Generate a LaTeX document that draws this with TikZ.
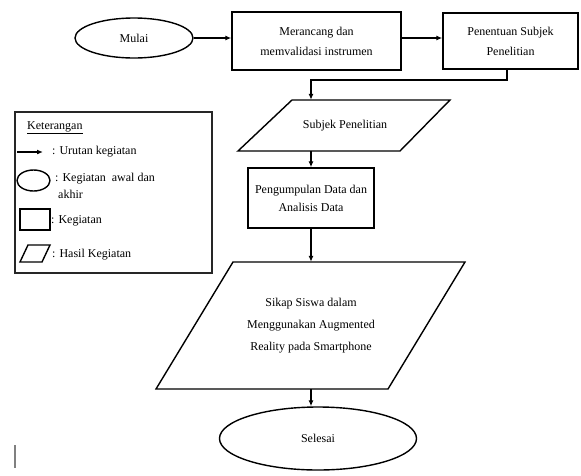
\documentclass[tikz,border=0pt]{standalone}
\usepackage{fontspec}
\setmainfont{Liberation Serif}
\usetikzlibrary{shapes.geometric,arrows.meta}
\begin{document}
\begin{tikzpicture}[x=1pt,y=-1pt,
  font=\fontsize{12}{20}\selectfont,
  outl/.style={draw=black, line width=1.4pt},
  boxnode/.style={outl, rectangle, align=center, inner sep=0pt},
  oval/.style={outl, ellipse, inner sep=0pt},
  txt/.style={align=center, inner sep=0pt},
  conn/.style={line width=1.4pt, -{Latex[length=6pt,width=5pt]}},
  legtxt/.style={anchor=west, inner sep=0pt, align=left, font=\fontsize{12}{17}\selectfont},
  legline/.style={draw=black!85, line width=1.2pt}]
\useasboundingbox (0,0) rectangle (581,475);

% main flow
\node[oval, minimum width=118pt, minimum height=40pt] (mulai) at (134,38) {Mulai};
\node[boxnode, minimum width=169pt, minimum height=58pt] (b1) at (316.5,41) {Merancang dan\\memvalidasi instrumen};
\node[boxnode, minimum width=135pt, minimum height=56pt] (b2) at (510.5,41) {Penentuan Subjek\\Penelitian};

\draw[outl] (292,100) -- (450,100) -- (400,151) -- (238,151) -- cycle;
\node[txt, minimum width=160pt, minimum height=51pt] (p1) at (345,125.5) {Subjek Penelitian};

\node[boxnode, minimum width=126pt, minimum height=60pt, font=\fontsize{12}{18}\selectfont] (b3) at (311,198) {Pengumpulan Data dan\\Analisis Data};

\draw[outl] (233,262) -- (465,262) -- (388,389) -- (156,389) -- cycle;
\node[txt, minimum width=232pt, minimum height=127pt, font=\fontsize{12}{22}\selectfont] (p2) at (311,325.5) {Sikap Siswa dalam\\Menggunakan Augmented\\Reality pada Smartphone};

\node[oval, minimum width=197pt, minimum height=63pt] (selesai) at (318,438.5) {Selesai};

\coordinate (c1) at (507,80);
\draw[conn] (mulai.east) -- (mulai.east -| b1.west);
\draw[conn] (b1.east |- 0,38) -- (b2.west |- 0,38);
\draw[conn] (b2.south -| c1) -- (c1) -- (c1 -| b3) -- (p1.north -| b3);
\draw[conn] (p1.south -| b3) -- (b3.north);
\draw[conn] (b3.south) -- (p2.north -| b3);
\draw[conn] (p2.south -| b3) -- (selesai.north -| b3);

% legend
\node[legline, rectangle, minimum width=197pt, minimum height=161pt, inner sep=0pt] (leg) at (113.5,192.5) {};
\node[legtxt] (ket) at (27,128) {\underline{Keterangan}};
\coordinate (la) at (17,152);
\coordinate (lb) at (43,152);
\draw[conn, line width=1.3pt] (la) -- (lb);
\node[legtxt] (t1) at (52,152) {: Urutan kegiatan};
\node[oval, minimum width=33pt, minimum height=21pt] (le) at (33.5,180.5) {};
\node[legtxt] (t2) at (55,186) {: Kegiatan\ \ awal dan\\\ akhir};
\node[outl, rectangle, minimum width=30pt, minimum height=21pt, inner sep=0pt] (lr) at (35,219.5) {};
\node[legtxt] (t3) at (51,221) {: Kegiatan};
\draw[outl] (28,245) -- (50,245) -- (42,262) -- (20,262) -- cycle;
\node[legtxt] (t4) at (52,255) {: Hasil Kegiatan};

% stray cursor mark
\draw[gray, line width=1.8pt] (15,445) -- (15,468);
\end{tikzpicture}
\end{document}
